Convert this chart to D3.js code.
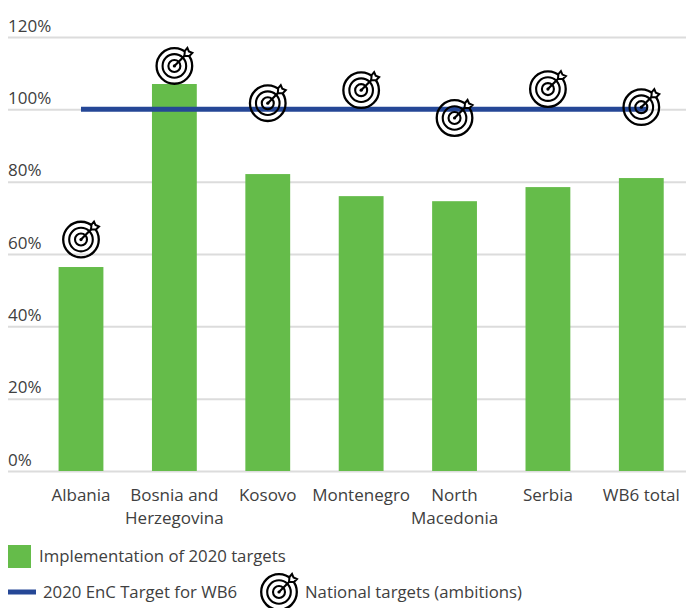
<!DOCTYPE html>
<html><head><meta charset="utf-8">
<script src="https://cdnjs.cloudflare.com/ajax/libs/d3/7.8.5/d3.min.js"></script>
<style>html,body{margin:0;padding:0;background:#fff}svg{display:block}text{font-family:"Open Sans",sans-serif;fill:#404040;font-size:16.75px}</style>
</head><body><svg id="c" width="686" height="608"></svg>
<script>
const categories=[["Albania"],["Bosnia and","Herzegovina"],["Kosovo"],["Montenegro"],["North","Macedonia"],["Serbia"],["WB6 total"]];
const implementation=[56.4,107,82.1,76,74.6,78.5,81];
const ambitions=[64,112,101.7,105.3,97.6,105.6,100.6];
const enCTarget=100;
const yTicks=[0,20,40,60,80,100,120];
const legendBar="Implementation of 2020 targets";
const legendLine="2020 EnC Target for WB6";
const legendIcon="National targets (ambitions)";

const svg=d3.select("#c");
const names=categories.map(d=>d.join(" "));
const x=d3.scaleBand().domain(names).range([34.3,688]).paddingInner(0.52).paddingOuter(0.26);
const y=d3.scaleLinear().domain([0,120]).range([471,37]);

const yAxis=d3.axisLeft(y).tickValues(yTicks).tickSize(-678).tickFormat(d=>d+"%");
const gy=svg.append("g").attr("transform","translate(8,0)").call(yAxis);
gy.select(".domain").remove();
gy.selectAll("line").attr("stroke","#dcdcdc").attr("stroke-width",2);
gy.selectAll("text").attr("text-anchor","start").attr("x",0).attr("dy",-6).style("font-size","17px");

svg.append("g").selectAll("rect").data(implementation).join("rect")
 .attr("x",(d,i)=>x(names[i])).attr("width",x.bandwidth())
 .attr("y",d=>y(d)).attr("height",d=>y(0)-y(d)).attr("fill","#65bc4a");

const cx=i=>x(names[i])+x.bandwidth()/2;
svg.append("line").attr("x1",cx(0)).attr("x2",cx(6)+6)
 .attr("y1",y(enCTarget)).attr("y2",y(enCTarget)).attr("stroke","#254796").attr("stroke-width",5);

function target(g,px,py){
  const n=g.append("g").attr("transform",`translate(${px},${py})`).attr("fill","none").attr("stroke","#000");
  n.append("circle").attr("r",17.8).attr("stroke-width",2.3);
  n.append("circle").attr("r",11.8).attr("stroke-width",2.1);
  n.append("circle").attr("r",6).attr("stroke-width",2.1);
  n.append("path").attr("d","M0,0L12,-12").attr("stroke-width",2.2);
  n.append("path").attr("d","M10,-10L10.5,-15L13,-18L14.5,-14.5L18,-13L15,-10Z").attr("fill","#fff").attr("stroke-width",2);
  n.append("circle").attr("r",1.6).attr("fill","#000").attr("stroke","none");
}
const icons=svg.append("g");
ambitions.forEach((v,i)=>target(icons,cx(i),y(v)));

const labels=svg.append("g").selectAll("text").data(categories).join("text")
 .attr("text-anchor","middle").attr("y",501).style("font-size","17px");
labels.selectAll("tspan").data(d=>d).join("tspan").attr("x",(d,i,n)=>cx(categories.indexOf(n[i].parentNode.__data__))).attr("dy",(d,i)=>i?23:0).text(d=>d);

const leg=svg.append("g");
leg.append("rect").attr("x",8).attr("y",545).attr("width",23).attr("height",23).attr("fill","#65bc4a");
leg.append("text").attr("x",39).attr("y",562).text(legendBar);
leg.append("line").attr("x1",8).attr("x2",36).attr("y1",592).attr("y2",592).attr("stroke","#254796").attr("stroke-width",5);
leg.append("text").attr("x",43).attr("y",598).text(legendLine);
target(leg,279,592);
leg.append("text").attr("x",305).attr("y",598).text(legendIcon);
</script></body></html>
